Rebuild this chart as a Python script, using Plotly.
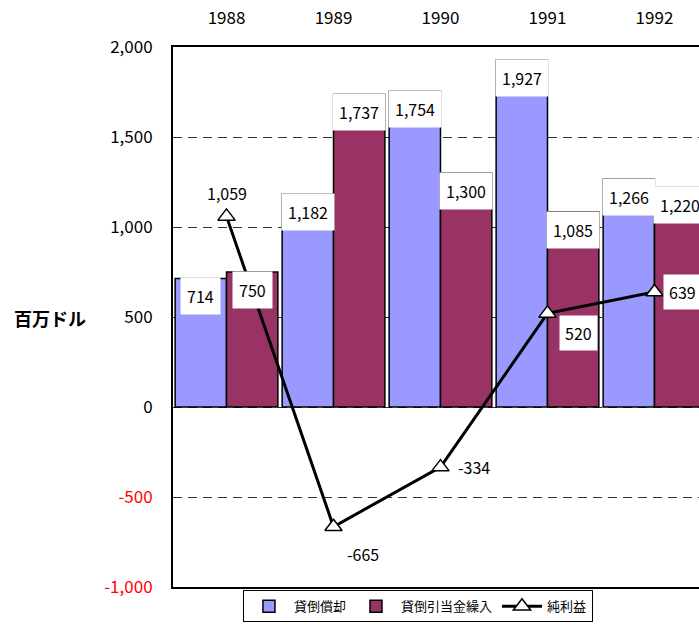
import plotly.graph_objects as go

# Annual figures, millions of dollars
years = ["1988", "1989", "1990", "1991", "1992"]
write_offs = [714, 1182, 1754, 1927, 1266]      # 貸倒償却
provisions = [750, 1737, 1300, 1085, 1220]      # 貸倒引当金繰入
net_income = [1059, -665, -334, 520, 639]       # 純利益
y_ticks = [-1000, -500, 0, 500, 1000, 1500, 2000]

BLUE = "#9999FF"
MAROON = "#993366"
FONT = "Noto Sans CJK JP, Noto Sans, sans-serif"
BARGAP = 0.04
HALF = (1 - BARGAP) / 4          # distance of each bar centre from the category centre

# label offsets (px) and backgrounds for the net income points
line_label_shift = [(0, 23), (29, -27), (34, 0), (31, -20), (28, 0)]
line_label_bg = [None, None, None, "white", "white"]

x = list(range(len(years)))


def fmt(v):
    return f"{v:,}"


def tick_text(v):
    s = fmt(v)
    return f"<span style='color:#FF0000'>{s}</span>" if v < 0 else s


fig = go.Figure()
fig.add_trace(go.Bar(
    x=x, y=write_offs, name="貸倒償却",
    marker=dict(color=BLUE, line=dict(color="black", width=1.5)),
    hoverinfo="skip",
))
fig.add_trace(go.Bar(
    x=x, y=provisions, name="貸倒引当金繰入",
    marker=dict(color=MAROON, line=dict(color="black", width=1.5)),
    hoverinfo="skip",
))
fig.add_trace(go.Scatter(
    x=x, y=net_income, name="純利益", mode="lines+markers",
    line=dict(color="black", width=3),
    marker=dict(symbol="triangle-up", size=15, color="white",
                line=dict(color="black", width=1.5)),
    hoverinfo="skip",
))

annotations = []
for series, sign in ((write_offs, -1), (provisions, 1)):
    for i, v in enumerate(series):
        annotations.append(dict(
            x=i + sign * HALF, y=v, xref="x", yref="y",
            text=fmt(v), showarrow=False, yshift=-18,
            bgcolor="white", borderpad=6,
            font=dict(family=FONT, size=16, color="black"),
        ))
for i, v in enumerate(net_income):
    dx, dy = line_label_shift[i]
    annotations.append(dict(
        x=i, y=v, xref="x", yref="y", text=fmt(v), showarrow=False,
        xshift=dx, yshift=dy, bgcolor=line_label_bg[i] or "rgba(0,0,0,0)",
        borderpad=5,
        font=dict(family=FONT, size=16, color="black"),
    ))
annotations.append(dict(
    x=-0.234, y=0.498, xref="paper", yref="paper", text="<b>百万ドル</b>",
    xanchor="center", yanchor="middle",
    showarrow=False, font=dict(family=FONT, size=18, color="black"),
))

fig.update_layout(
    width=699, height=626,
    margin=dict(l=173, r=0, t=47, b=39, autoexpand=False),
    paper_bgcolor="white", plot_bgcolor="white",
    barmode="group", bargap=BARGAP, bargroupgap=0,
    font=dict(family=FONT, size=15, color="black"),
    annotations=annotations,
    showlegend=True,
    legend=dict(
        orientation="h", x=0.133, xanchor="left", y=-0.006, yanchor="top",
        bordercolor="black", borderwidth=1, bgcolor="white",
        font=dict(family=FONT, size=13), itemwidth=40,
    ),
    xaxis=dict(
        side="top", range=[-0.5, 4.416],
        tickmode="array", tickvals=x, ticktext=years,
        showgrid=False, zeroline=False, ticks="",
        showline=True, linecolor="black", linewidth=2, mirror=True,
        tickfont=dict(family=FONT, size=17),
        ticklabelstandoff=14,
    ),
    yaxis=dict(
        range=[-1000, 2000],
        tickmode="array", tickvals=y_ticks,
        ticktext=[tick_text(v) for v in y_ticks],
        showgrid=True, gridcolor="#333333", gridwidth=1, griddash="9px,6px",
        zeroline=False, ticks="",
        showline=True, linecolor="black", linewidth=2,
        tickfont=dict(family=FONT, size=17),
        ticklabelstandoff=15,
    ),
)

fig.write_html("out.html")
